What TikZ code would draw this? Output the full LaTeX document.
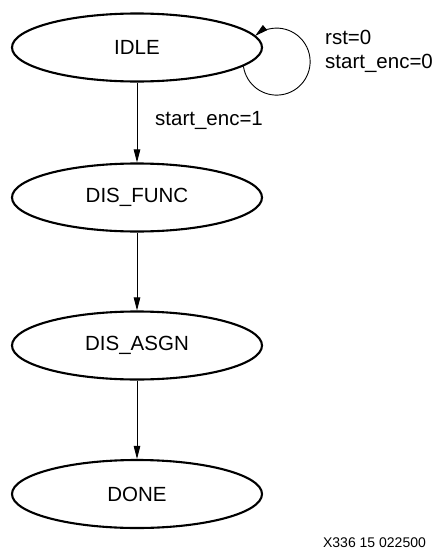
\documentclass[tikz,border=0pt]{standalone}
\usepackage{fontspec}
\setmainfont{Liberation Sans}
\usetikzlibrary{shapes.geometric,arrows.meta}
\begin{document}
\begin{tikzpicture}[x=1pt,y=1pt,
  state/.style={ellipse,draw,line width=2.1pt,minimum width=250pt,minimum height=68pt,inner sep=0pt,font=\fontsize{20.5}{24}\selectfont},
  arr/.style={line width=0.9pt,-{Triangle[length=13pt,width=6.5pt]}},
  lbl/.style={font=\fontsize{20.5}{24}\selectfont,inner sep=0pt,align=left}]
\useasboundingbox (0,0) rectangle (439,-557);
\node[state] (idle) at (137,-47.5) {IDLE};
\node[state] (func) at (137,-197.5) {DIS\_FUNC};
\node[state] (asgn) at (137,-345.5) {DIS\_ASGN};
\node[state] (done) at (137,-494) {DONE};
\draw[arr] (idle) -- (func);
\draw[arr] (func) -- (asgn);
\draw[arr] (asgn) -- (done);
\draw[arr] (idle.-10) arc[start angle=188,end angle=490,radius=33.5];
\node[lbl,anchor=west] (l1) at (325,-51) {rst=0\\start\_enc=0};
\node[lbl,anchor=west] (l2) at (155,-120) {start\_enc=1};
\node[font=\fontsize{14}{16}\selectfont,inner sep=0pt] (fig) at (374.5,-543) {X336 15 022500};
\end{tikzpicture}
\end{document}
